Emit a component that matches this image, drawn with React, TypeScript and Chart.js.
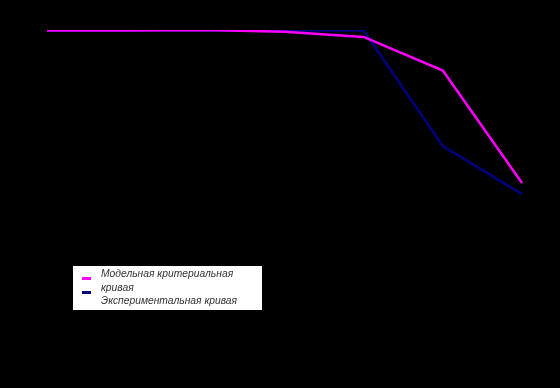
import React, { useEffect, useRef } from "react";
import { Chart, registerables } from "chart.js";

Chart.register(...registerables);

const categories = ["1", "2", "3", "4", "5", "6", "7"];
const modelValues = [99.8, 99.8, 100, 99.4, 97.7, 86.5, 49];
const experimentValues = [99.8, 99.8, 99.8, 99.8, 99.8, 61.3, 45.3];
const seriesLabels = ["Модельная критериальная кривая", "Экспериментальная кривая"];
const seriesColors = ["#FF00FF", "#000080"];

const legendPlugin = {
  id: "oldLegend",
  afterDraw(chart: any) {
    const ctx = chart.ctx;
    const boxX = 73, boxY = 266, boxW = 189, boxH = 44;
    ctx.save();
    ctx.fillStyle = "#FFFFFF";
    ctx.fillRect(boxX, boxY, boxW, boxH);
    ctx.font = "italic 10.3px 'Liberation Sans', Arial, sans-serif";
    ctx.textBaseline = "alphabetic";
    ctx.fillStyle = "#333333";
    const maxW = 140;
    let line = 0;
    chart.data.datasets.forEach((ds: any, i: number) => {
      ctx.fillStyle = ds.borderColor;
      ctx.fillRect(82, 277 + i * 14, 9, 3);
      ctx.fillStyle = "#333333";
      const words = String(ds.label).split(" ");
      let cur = "";
      const lines: string[] = [];
      words.forEach((w) => {
        const test = cur ? cur + " " + w : w;
        if (ctx.measureText(test).width > maxW && cur) {
          lines.push(cur);
          cur = w;
        } else cur = test;
      });
      if (cur) lines.push(cur);
      lines.forEach((l) => {
        ctx.fillText(l, 101, 277 + line * 13.5);
        line++;
      });
    });
    ctx.restore();
  },
};

export default function App() {
  const ref = useRef<HTMLCanvasElement>(null);
  useEffect(() => {
    document.body.style.margin = "0";
    document.body.style.background = "#000000";
    const chart = new Chart(ref.current!, {
      type: "line",
      data: {
        labels: categories,
        datasets: [
          {
            label: seriesLabels[0],
            data: modelValues,
            borderColor: seriesColors[0],
            backgroundColor: seriesColors[0],
            borderWidth: 2.5,
            pointRadius: 0,
            tension: 0,
          },
          {
            label: seriesLabels[1],
            data: experimentValues,
            borderColor: seriesColors[1],
            backgroundColor: seriesColors[1],
            borderWidth: 2.5,
            pointRadius: 0,
            tension: 0,
          },
        ],
      },
      options: {
        animation: false,
        responsive: false,
        layout: { padding: { left: 47, right: 38, top: 30, bottom: 58 } },
        scales: {
          x: { display: false },
          y: { display: false, min: 0, max: 100 },
        },
        plugins: { legend: { display: false }, tooltip: { enabled: false } },
      },
      plugins: [legendPlugin],
    });
    return () => chart.destroy();
  }, []);
  return (
    <div style={{ width: 560, height: 388, background: "#000000" }}>
      <canvas ref={ref} width={560} height={388} style={{ display: "block" }} />
    </div>
  );
}
